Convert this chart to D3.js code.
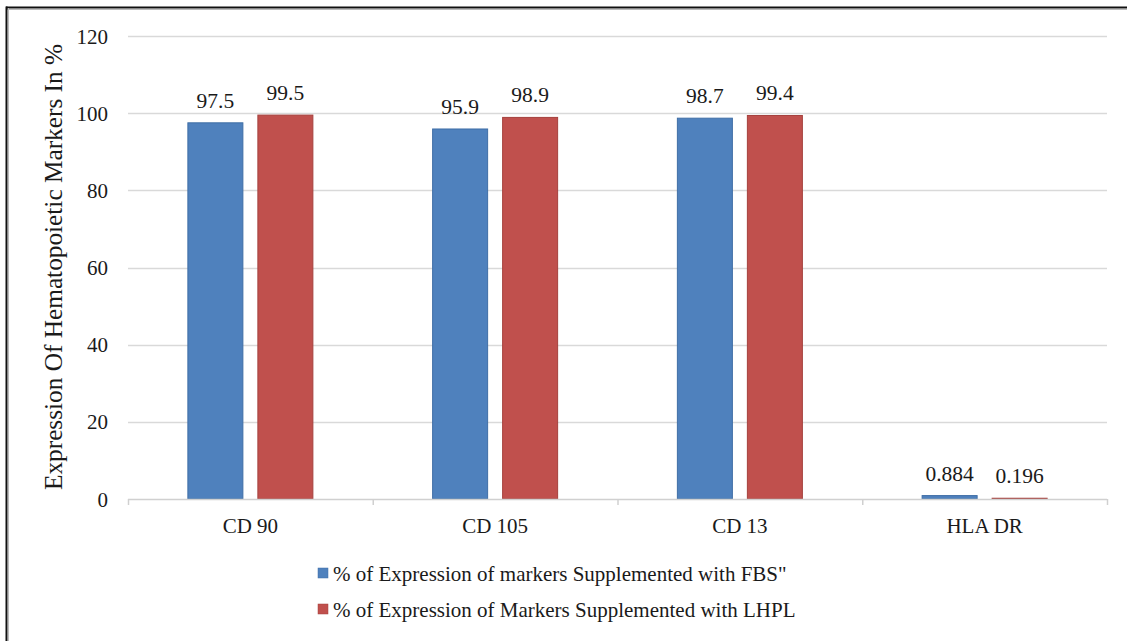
<!DOCTYPE html>
<html>
<head>
<meta charset="utf-8">
<script src="https://cdn.jsdelivr.net/npm/d3@7"></script>
<style>
  html, body { margin: 0; padding: 0; background: #fff; }
  svg { display: block; }
</style>
</head>
<body>
<svg id="chart" width="1127" height="641"></svg>
<script>
// Marker categories and the two media series
const categories = ["CD 90", "CD 105", "CD 13", "HLA DR"];
const fbsValues = [97.5, 95.9, 98.7, 0.884];
const lhplValues = [99.5, 98.9, 99.4, 0.196];
const fbsLabels = ["97.5", "95.9", "98.7", "0.884"];
const lhplLabels = ["99.5", "98.9", "99.4", "0.196"];
const yTicks = [0, 20, 40, 60, 80, 100, 120];
const seriesNames = [
  "% of Expression of markers Supplemented with FBS\"",
  "% of Expression of Markers Supplemented with LHPL"
];
const seriesColors = ["#4F81BD", "#C0504D"];
const seriesStroke = ["#3F6EA6", "#A5403D"];

const FONT = "Liberation Serif";
const INK = "#1a1a1a";

const svg = d3.select("#chart");

// Frame lines along the top and left edges
svg.append("line").attr("x1", 6).attr("x2", 1127).attr("y1", 7.5).attr("y2", 7.5)
  .attr("stroke", "#111").attr("stroke-width", 2);
svg.append("line").attr("x1", 7).attr("x2", 1127).attr("y1", 9.5).attr("y2", 9.5)
  .attr("stroke", "#bbb").attr("stroke-width", 1);
svg.append("line").attr("x1", 6.5).attr("x2", 6.5).attr("y1", 6.5).attr("y2", 641)
  .attr("stroke", "#111").attr("stroke-width", 2);
svg.append("line").attr("x1", 8.5).attr("x2", 8.5).attr("y1", 8).attr("y2", 641)
  .attr("stroke", "#bbb").attr("stroke-width", 1);

const plot = { left: 128, right: 1107, top: 36, bottom: 499 };

const x = d3.scaleBand().domain(categories).range([plot.left, plot.right]).paddingInner(0).paddingOuter(0);
const y = d3.scaleLinear().domain([0, 120]).range([plot.bottom, plot.top]);

const barW = 55, barGap = 15;
const offsets = [-(barW + barGap) / 2, (barW + barGap) / 2];

// Horizontal gridlines
const grid = svg.append("g");
grid.selectAll("line").data(yTicks.filter(d => d > 0)).join("line")
  .attr("x1", plot.left).attr("x2", plot.right)
  .attr("y1", d => Math.round(y(d)) + 0.5).attr("y2", d => Math.round(y(d)) + 0.5)
  .attr("stroke", "#d9d9d9").attr("stroke-width", 1.5);

// Y axis tick labels
const yAxis = d3.axisLeft(y).tickValues(yTicks).tickSize(0).tickPadding(20).tickFormat(d3.format("d"));
const yg = svg.append("g").attr("transform", `translate(${plot.left},0)`).call(yAxis);
yg.select(".domain").remove();
yg.attr("font-family", FONT).attr("font-size", 21);
yg.selectAll(".tick text").attr("fill", INK).attr("dy", "0.34em");

// Bars
const series = [fbsValues, lhplValues];
const labels = [fbsLabels, lhplLabels];
series.forEach((vals, si) => {
  const g = svg.append("g");
  g.selectAll("rect").data(categories).join("rect")
    .attr("x", (c) => x(c) + x.bandwidth() / 2 + offsets[si] - barW / 2)
    .attr("width", barW)
    .attr("y", (c, i) => y(vals[i]))
    .attr("height", (c, i) => Math.max(y(0) - y(vals[i]), 1))
    .attr("fill", seriesColors[si])
    .attr("stroke", seriesStroke[si]).attr("stroke-width", 1);
  g.selectAll("text").data(categories).join("text")
    .attr("x", (c) => x(c) + x.bandwidth() / 2 + offsets[si])
    .attr("y", (c, i) => y(vals[i]) - 15)
    .attr("text-anchor", "middle")
    .attr("font-size", 21.5).attr("font-family", FONT).attr("fill", INK)
    .text((c, i) => labels[si][i]);
});

// X axis baseline with category boundary ticks
const xg = svg.append("g");
xg.append("line").attr("x1", plot.left).attr("x2", plot.right)
  .attr("y1", plot.bottom + 0.5).attr("y2", plot.bottom + 0.5)
  .attr("stroke", "#d0d0d0").attr("stroke-width", 1.5);
const bounds = categories.map(c => x(c)).concat([plot.right]);
xg.selectAll("line.tick").data(bounds).join("line").attr("class", "tick")
  .attr("x1", d => d + 0.5).attr("x2", d => d + 0.5)
  .attr("y1", plot.bottom).attr("y2", plot.bottom + 6)
  .attr("stroke", "#d0d0d0").attr("stroke-width", 1.5);
xg.selectAll("text").data(categories).join("text")
  .attr("x", c => x(c) + x.bandwidth() / 2)
  .attr("y", 533)
  .attr("text-anchor", "middle")
  .attr("font-size", 21).attr("font-family", FONT).attr("fill", INK)
  .text(c => c);

// Y axis title
svg.append("text")
  .attr("transform", `translate(62,${(45 + 489) / 2}) rotate(-90)`)
  .attr("text-anchor", "middle")
  .attr("font-size", 25.3).attr("font-family", FONT).attr("fill", INK)
  .text("Expression Of Hematopoietic Markers In %");

// Legend
const legend = svg.append("g");
seriesNames.forEach((name, i) => {
  const ly = 573 + i * 36;
  legend.append("rect").attr("x", 318).attr("y", ly - 5).attr("width", 10).attr("height", 10)
    .attr("fill", seriesColors[i]).attr("stroke", seriesStroke[i]).attr("stroke-width", 0.5);
  legend.append("text").attr("x", 333).attr("y", ly + 8)
    .attr("font-size", 21).attr("font-family", FONT).attr("fill", INK).text(name);
});
</script>
</body>
</html>
